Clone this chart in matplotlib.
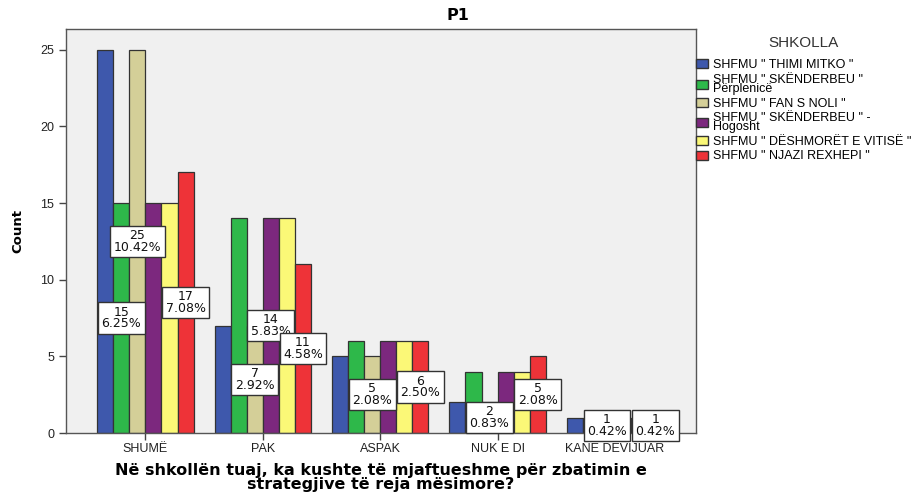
import numpy as np
import matplotlib.pyplot as plt
from matplotlib.patches import Patch

categories = ["SHUMË", "PAK", "ASPAK", "NUK E DI", "KANË DEVIJUAR"]
schools = [
    'SHFMU " THIMI MITKO "',
    'SHFMU " SKËNDERBEU "\nPërplenicë',
    'SHFMU " FAN S NOLI "',
    'SHFMU " SKËNDERBEU " -\nHogosht',
    'SHFMU " DËSHMORËT E VITISË "',
    'SHFMU " NJAZI REXHEPI "',
]
thimi_mitko = [25, 7, 5, 2, 1]
skenderbeu_perplenice = [15, 14, 6, 4, 1]
fan_noli = [25, 7, 5, 2, 1]
skenderbeu_hogosht = [15, 14, 6, 4, 1]
deshmoret = [15, 14, 6, 4, 1]
njazi_rexhepi = [17, 11, 6, 5, 1]
total = 240

# bars that get a count / percent box: (category, school)
labelled = [(0, 1), (0, 2), (0, 5), (1, 2), (1, 3), (1, 5),
            (2, 2), (2, 5), (3, 2), (3, 5), (4, 2), (4, 5)]

colors = ["#3e58ac", "#2eb84a", "#d4cf98", "#7c287e", "#fbf877", "#ee3338"]
series = [thimi_mitko, skenderbeu_perplenice, fan_noli,
          skenderbeu_hogosht, deshmoret, njazi_rexhepi]

plt.rcParams['font.family'] = ['Liberation Sans', 'DejaVu Sans']

fig = plt.figure(figsize=(9.21, 4.92), dpi=100)
ax = fig.add_axes([0.0717, 0.1199, 0.684, 0.8211])
ax.set_facecolor("#f0f0f0")

x = np.arange(len(categories))
w = 0.137
for i, (vals, c) in enumerate(zip(series, colors)):
    ax.bar(x + (i - 2.5) * w, vals, width=w, color=c,
           edgecolor="#333333", linewidth=0.9, zorder=2)

for ci, si in labelled:
    v = series[si][ci]
    ax.text(x[ci] + (si - 2.5) * w, v / 2, f"{v}\n{v / total * 100:.2f}%",
            ha="center", va="center", fontsize=9, linespacing=0.85,
            family="DejaVu Sans", color="#111111", zorder=5, clip_on=False,
            bbox=dict(boxstyle="square,pad=0.28", fc="white",
                      ec="#333333", lw=1))

ax.set_xlim(-0.676, 4.69)
ax.set_ylim(0, 26.35)
ax.set_yticks([0, 5, 10, 15, 20, 25])
ax.set_xticks(x)
ax.set_xticklabels(categories)
ax.tick_params(axis="both", labelsize=9, length=5, width=1,
               color="#444444", labelcolor="#222222")
ax.tick_params(axis="x", pad=2)
for s in ax.spines.values():
    s.set_color("#555555")
    s.set_linewidth(1)

ax.set_xlabel("Në shkollën tuaj, ka kushte të mjaftueshme për zbatimin e\n"
              "strategjive të reja mësimore?", family="DejaVu Sans",
              fontweight="bold", fontsize=11.5, linespacing=0.92, labelpad=6)
ax.set_ylabel("Count", family="DejaVu Sans", fontweight="bold", fontsize=9.5)
ax.yaxis.set_label_coords(-0.066, 0.5)

fig.text(0.497, 0.969, "P1", ha="center", va="center", family="DejaVu Sans",
         fontweight="bold", fontsize=11.5)

handles = [Patch(facecolor=c, edgecolor="#333333", linewidth=1) for c in colors]
leg = fig.legend(handles, schools, loc="upper left",
                 bbox_to_anchor=(0.7557, 1 - 36 / 492), frameon=False,
                 fontsize=9, title="SHKOLLA", title_fontsize=11,
                 borderpad=0, borderaxespad=0, handlelength=0.95,
                 handleheight=0.75, handletextpad=0.4, labelspacing=0.2)
for t in leg.get_texts():
    t.set_linespacing(0.72)
leg.get_title().set_color("#333333")
# a bit more room between the legend title and the entries
leg._legend_box.sep = 6.5

fig.savefig("out.png", dpi=100)
